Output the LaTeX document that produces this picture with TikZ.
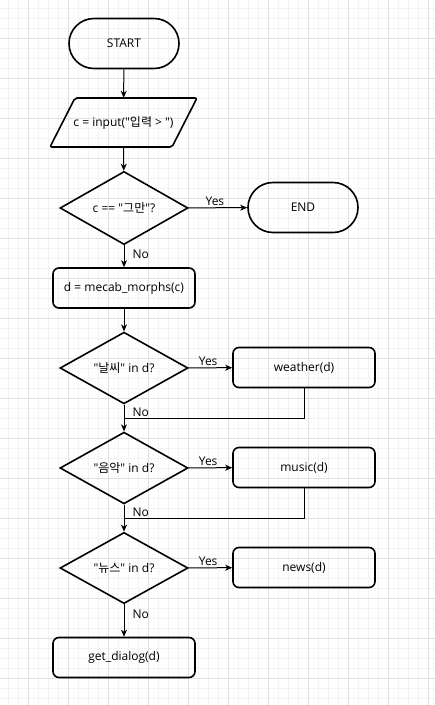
\documentclass[tikz,border=0pt]{standalone}
\usepackage{fontspec}
\usepackage{xcolor}
\setmainfont{Open Sans}[Ligatures=TeXOff]
\newfontfamily\kr{Noto Sans CJK KR}
\usetikzlibrary{shapes.geometric,arrows.meta}

\definecolor{gridminor}{HTML}{F3F3F3}
\definecolor{gridmajor}{HTML}{E0E0E0}

\begin{document}
\begin{tikzpicture}[x=1pt, y=-1pt,
	font=\fontsize{12}{14}\selectfont,
	terminal/.style={draw, line width=1.6pt, rounded corners=25pt, minimum width=110pt, minimum height=50pt},
	io/.style={minimum width=122pt, minimum height=49pt, inner sep=0pt},
	decision/.style={draw, line width=1.6pt, diamond, minimum width=128pt, minimum height=60pt, inner sep=0pt},
	process/.style={draw, line width=1.6pt, rounded corners=6pt, minimum width=142pt, minimum height=40pt},
	flow/.style={line width=1pt, -{Stealth[length=7pt, width=6pt, inset=2pt]}},
	backline/.style={line width=1pt},
	lbl/.style={inner sep=2pt}
	]
	\useasboundingbox (0,0) rectangle (435,705);
	% grid paper
	\fill[white] (0,0) rectangle (435,705);
	\foreach \g in {8,18,...,428} \draw[gridminor, line width=1pt] (\g,0) -- (\g,705);
	\foreach \g in {8,18,...,698} \draw[gridminor, line width=1pt] (0,\g) -- (435,\g);
	\foreach \g in {28,68,...,428} \draw[gridmajor, line width=1pt] (\g,0) -- (\g,705);
	\foreach \g in {38,78,...,678} \draw[gridmajor, line width=1pt] (0,\g) -- (435,\g);
	
	% main column
	\node[terminal] (start) at (124,43.5) {START};
	\node[io] (input) at (123.5,122.5) {c = input("{\kr 입력} > ")};
	\draw[line width=1.6pt, rounded corners=2pt] (50,147) -- (75,98) -- (197,98) -- (172,147) -- cycle;
	\node[decision] (stop) at (124,208) {c == "{\kr 그만}"?};
	\node[terminal] (end) at (303,207.5) {END};
	\node[process] (morphs) at (124,288) {d = mecab\_morphs(c)};
	
	\node[decision] (askweather) at (124,368) {"{\kr 날씨}" in d?};
	\node[process] (weather) at (304,367.5) {weather(d)};
	\node[decision] (askmusic) at (124,468) {"{\kr 음악}" in d?};
	\node[process] (music) at (304,467.5) {music(d)};
	\node[decision] (asknews) at (124,568) {"{\kr 뉴스}" in d?};
	\node[process] (news) at (304,567.5) {news(d)};
	\node[process] (dialog) at (124,657.5) {get\_dialog(d)};
	
	\coordinate (backweather) at (124,418);
	\coordinate (backmusic) at (124,518);
	
	% connectors
	\draw[flow] (start) -- (input);
	\draw[flow] (input) -- (stop);
	\draw[flow] (stop) -- node[lbl, above, pos=0.45] {Yes} (end);
	\draw[flow] (stop) -- node[lbl, right, pos=0.4, xshift=6pt] {No} (morphs);
	\draw[flow] (morphs) -- (askweather);
	
	\draw[flow] (askweather) -- node[lbl, above, pos=0.45] {Yes} (weather);
	\draw[flow] (askweather) -- node[lbl, right, pos=0.3, xshift=6pt] {No} (askmusic);
	\draw[backline] (weather.south) |- (backweather);
	
	\draw[flow] (askmusic) -- node[lbl, above, pos=0.45] {Yes} (music);
	\draw[flow] (askmusic) -- node[lbl, right, pos=0.3, xshift=6pt] {No} (asknews);
	\draw[backline] (music.south) |- (backmusic);
	
	\draw[flow] (asknews) -- node[lbl, above, pos=0.45] {Yes} (news);
	\draw[flow] (asknews) -- node[lbl, right, pos=0.3, xshift=6pt] {No} (dialog);
\end{tikzpicture}
\end{document}
